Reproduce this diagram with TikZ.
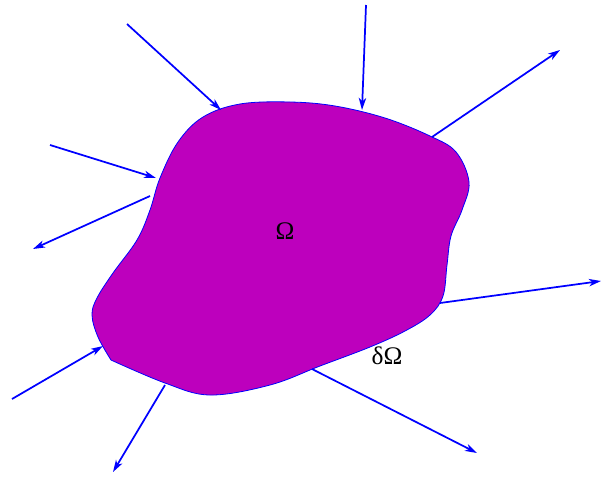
\documentclass[tikz,border=0pt]{standalone}
\usepackage{fontspec}
\setmainfont{Liberation Serif}
\usetikzlibrary{arrows.meta}
\definecolor{regionfill}{RGB}{189,0,189}
\begin{document}
\begin{tikzpicture}[x=0.75pt, y=-0.75pt]
    % Define styles
    \tikzstyle{region} = [draw=blue, line width=0.6pt, fill=regionfill]
    \tikzstyle{flux} = [draw=blue, line width=1.3pt, -{Stealth[length=9pt, width=5.5pt, inset=2.5pt]}]
    \tikzstyle{lbl} = [font=\fontsize{19}{22}\selectfont, inner sep=0pt]

    \useasboundingbox (0,0) rectangle (602,479);

    % Domain
    \draw[region] plot[smooth, tension=0.6] coordinates {(111,360) (98,337) (92,315) (97,298) (113,273) (137,240) (150,210) (160,178) (178,142) (203,117) (240,104) (290,102) (335,106) (385,118) (430,136) (456,152) (469,182) (462,210) (451,236) (447,265) (443,296) (430,315) (405,331) (370,347) (320,366) (270,385) (210,395) (165,383) (111,360)} -- cycle;

    % Labels
    \node[lbl] (omega) at (285,231) {Ω};
    \node[lbl] (bdry) at (387,356) {δΩ};

    % End points of the flux arrows
    \coordinate (in1) at (127,24);   \coordinate (b1) at (221,110);
    \coordinate (in2) at (366,5);    \coordinate (b2) at (362,110);
    \coordinate (b3) at (432,137);   \coordinate (out3) at (560,50);
    \coordinate (in4) at (50,145);   \coordinate (b4) at (156,178);
    \coordinate (b5) at (150,196);   \coordinate (out5) at (33,249);
    \coordinate (b6) at (440,303);   \coordinate (out6) at (601,281);
    \coordinate (in7) at (12,399);   \coordinate (b7) at (103,346);
    \coordinate (b8) at (165,385);   \coordinate (out8) at (113,472);
    \coordinate (b9) at (312,369);   \coordinate (out9) at (477,453);

    % Inflow
    \draw[flux] (in1) -- (b1);
    \draw[flux] (in2) -- (b2);
    \draw[flux] (in4) -- (b4);
    \draw[flux] (in7) -- (b7);
    % Outflow
    \draw[flux] (b3) -- (out3);
    \draw[flux] (b5) -- (out5);
    \draw[flux] (b6) -- (out6);
    \draw[flux] (b8) -- (out8);
    \draw[flux] (b9) -- (out9);
\end{tikzpicture}
\end{document}
